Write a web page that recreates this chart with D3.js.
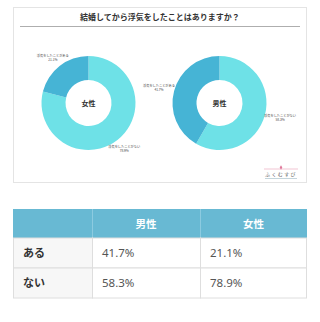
<!DOCTYPE html>
<html>
<head>
<meta charset="utf-8">
<script src="https://cdn.jsdelivr.net/npm/d3@7"></script>
<style>
  html, body { margin: 0; padding: 0; background: #fff; }
  svg { display: block; font-family: "Noto Sans CJK JP", "Noto Sans", sans-serif; }
</style>
</head>
<body>
<div id="chart"></div>
<script>
// data
var chartTitle = "結婚してから浮気をしたことはありますか？";
var answers = ["浮気をしたことがない", "浮気をしたことがある"];
var donutGenders = ["女性", "男性"];
var womenValues = [78.9, 21.1];
var menValues = [58.3, 41.7];

var tableColumns = ["男性", "女性"];
var tableRows = ["ある", "ない"];
var menCells = ["41.7%", "58.3%"];
var womenCells = ["21.1%", "78.9%"];

var W = 320, H = 322;
var colors = d3.scaleOrdinal()
    .domain(answers)
    .range(["#6ee1e7", "#46b4d5"]);

var svg = d3.select("#chart").append("svg")
    .attr("width", W)
    .attr("height", H);

// card
svg.append("rect")
    .attr("x", 13.5).attr("y", 7.5)
    .attr("width", 293).attr("height", 175)
    .attr("fill", "#fff")
    .attr("stroke", "#e4e4e4");

svg.append("text")
    .attr("x", 160).attr("y", 20)
    .attr("text-anchor", "middle")
    .style("font-size", "8px")
    .style("font-weight", "bold")
    .attr("fill", "#333")
    .text(chartTitle);

svg.append("line")
    .attr("x1", 20).attr("x2", 300)
    .attr("y1", 26.5).attr("y2", 26.5)
    .attr("stroke", "#999").attr("stroke-width", 0.8);

// donuts
var outerR = 47, innerR = 23, labelR = 58;
var centers = d3.scalePoint()
    .domain(donutGenders)
    .range([88.5, 219.5]);

var pie = d3.pie().sort(null).value(d => d.value);
var arc = d3.arc().innerRadius(innerR).outerRadius(outerR);
var labelArc = d3.arc().innerRadius(labelR).outerRadius(labelR);

var series = {
    "女性": answers.map((a, i) => ({ answer: a, value: womenValues[i] })),
    "男性": answers.map((a, i) => ({ answer: a, value: menValues[i] }))
};

donutGenders.forEach(function (g) {
    var cx = centers(g), cy = 103;
    var grp = svg.append("g")
        .attr("transform", "translate(" + cx + "," + cy + ")");

    var slices = pie(series[g]);

    grp.selectAll("path")
        .data(slices)
        .enter()
        .append("path")
        .attr("d", arc)
        .attr("fill", d => colors(d.data.answer));

    grp.append("text")
        .attr("y", 2.5)
        .attr("text-anchor", "middle")
        .style("font-size", "7px")
        .style("font-weight", "bold")
        .attr("fill", "#333")
        .text(g);

    // outside labels, pushed clear of the ring
    var half = 15;
    slices.forEach(function (d) {
        var p = labelArc.centroid(d);
        var x = p[0], y = p[1];
        if (Math.abs(y) < outerR) {
            var edge = Math.sqrt(outerR * outerR - y * y);
            if (x < 0) x = Math.min(x, -edge - 1 - half);
            else x = Math.max(x, edge + 1 + half);
        }
        var t = grp.append("text")
            .attr("text-anchor", "middle")
            .attr("transform", "translate(" + x + "," + y + ")")
            .style("font-size", "3.2px")
            .attr("fill", "#444");
        t.append("tspan").attr("x", 0).attr("y", -0.6).text(d.data.answer);
        t.append("tspan").attr("x", 0).attr("y", 3.4).text(d.data.value.toFixed(1) + "%");
    });
});

// logo
var logo = svg.append("g").attr("transform", "translate(281,0)");
logo.append("line").attr("x1", -17).attr("x2", 17).attr("y1", 169).attr("y2", 169)
    .attr("stroke", "#ea9fb6").attr("stroke-width", 0.6);
logo.append("path")
    .attr("d", d3.symbol().type(d3.symbolDiamond).size(6)())
    .attr("transform", "translate(0,167.5)")
    .attr("fill", "#e0799a");
logo.append("text")
    .attr("y", 175.5)
    .attr("text-anchor", "middle")
    .style("font-size", "5px")
    .style("letter-spacing", "1.4px")
    .attr("fill", "#666")
    .text("ふくむすび");
logo.append("line").attr("x1", -16).attr("x2", 16).attr("y1", 178.5).attr("y2", 178.5)
    .attr("stroke", "#9cb8c4").attr("stroke-width", 0.6);

// table
var colEdges = [13, 92, 200, 307];
var headerTop = 209, headerH = 29, rowH = 30;
var tbl = svg.append("g");

tbl.append("rect")
    .attr("x", colEdges[0]).attr("y", headerTop)
    .attr("width", colEdges[3] - colEdges[0]).attr("height", headerH)
    .attr("fill", "#68b9d3");

tbl.selectAll(".hsep")
    .data([colEdges[1], colEdges[2]])
    .enter()
    .append("line")
    .attr("x1", d => d + 0.5).attr("x2", d => d + 0.5)
    .attr("y1", headerTop).attr("y2", headerTop + headerH)
    .attr("stroke", "#8ccbe0");

tbl.selectAll(".htext")
    .data(tableColumns)
    .enter()
    .append("text")
    .attr("x", (d, i) => (colEdges[i + 1] + colEdges[i + 2]) / 2)
    .attr("y", headerTop + headerH / 2 + 4)
    .attr("text-anchor", "middle")
    .style("font-size", "10.5px")
    .style("font-weight", "bold")
    .attr("fill", "#fff")
    .text(d => d);

var rowData = tableRows.map((r, i) => ({ label: r, cells: [menCells[i], womenCells[i]] }));

var rows = tbl.selectAll(".row")
    .data(rowData)
    .enter()
    .append("g")
    .attr("transform", (d, i) => "translate(0," + (headerTop + headerH + i * rowH) + ")");

rows.append("rect")
    .attr("x", colEdges[0] + 0.5).attr("y", 0)
    .attr("width", colEdges[1] - colEdges[0]).attr("height", rowH)
    .attr("fill", "#f7f7f7")
    .attr("stroke", "#dedede");

rows.append("rect")
    .attr("x", colEdges[1] + 0.5).attr("y", 0)
    .attr("width", colEdges[2] - colEdges[1]).attr("height", rowH)
    .attr("fill", "#fff")
    .attr("stroke", "#dedede");

rows.append("rect")
    .attr("x", colEdges[2] + 0.5).attr("y", 0)
    .attr("width", colEdges[3] - colEdges[2] - 1).attr("height", rowH)
    .attr("fill", "#fff")
    .attr("stroke", "#dedede");

rows.append("text")
    .attr("x", 23).attr("y", rowH / 2 + 4)
    .style("font-size", "11px")
    .style("font-weight", "bold")
    .attr("fill", "#333")
    .text(d => d.label);

rows.selectAll(".val")
    .data(d => d.cells)
    .enter()
    .append("text")
    .attr("x", (d, i) => colEdges[i + 1] + 10)
    .attr("y", rowH / 2 + 4)
    .style("font-family", "'Noto Sans', sans-serif")
    .style("font-size", "11.5px")
    .attr("fill", "#555")
    .text(d => d);
</script>
</body>
</html>
